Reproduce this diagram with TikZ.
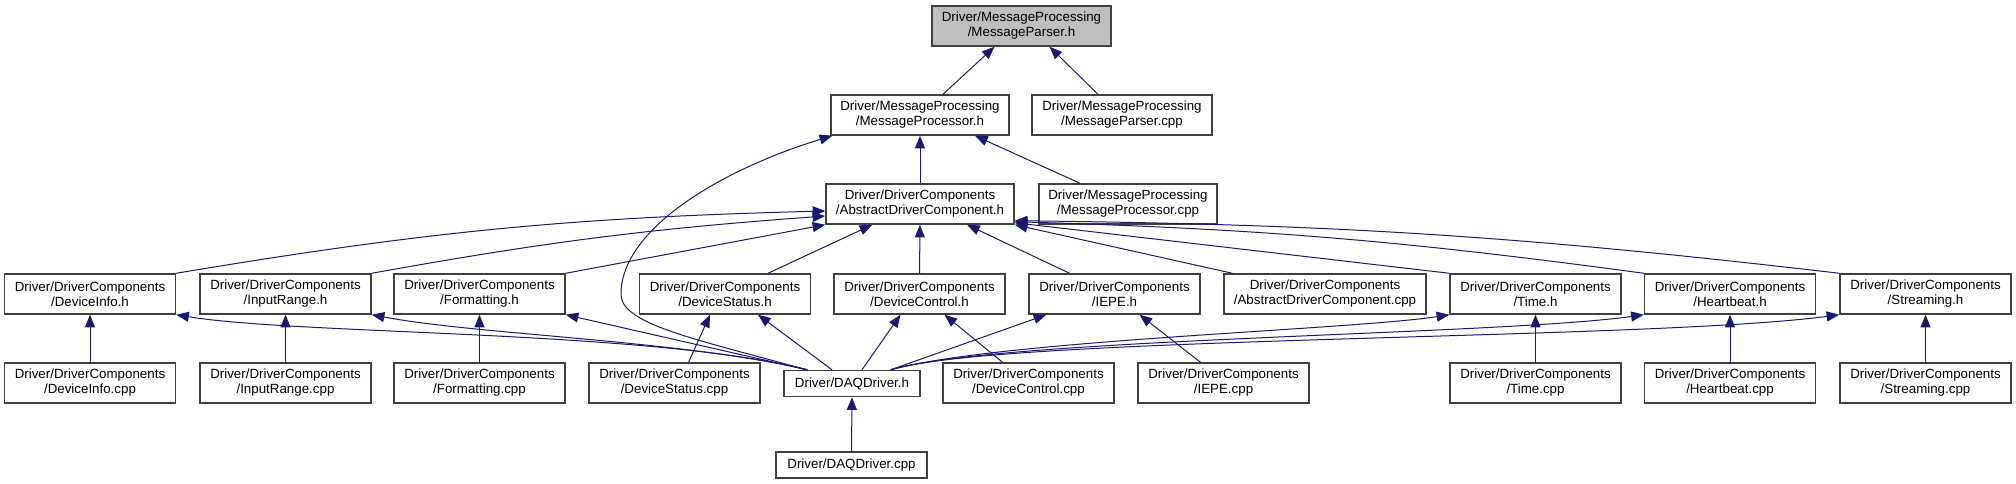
\documentclass[tikz,border=0pt]{standalone}
\usepackage{fontspec}
\setmainfont{Liberation Sans}
\usepackage{tikz}
\usetikzlibrary{arrows.meta, calc}
\definecolor{edgeblue}{RGB}{25, 25, 112}
\definecolor{headgray}{RGB}{191, 191, 191}

\begin{document}
\begin{tikzpicture}[x=0.75pt, y=-0.75pt,
    filenode/.style={rectangle, draw=black!75, line width=1.1pt, fill=white, minimum width=128.25pt, minimum height=30pt, inner sep=1pt, align=center, font=\fontsize{10pt}{11.25pt}\selectfont},
    rootnode/.style={filenode, fill=headgray, minimum width=134.25pt},
    onenode/.style={filenode, minimum height=19.5pt},
    incl/.style={<-, draw=edgeblue, line width=0.75pt, >={Triangle[length=9.5pt, width=7.5pt]}}
]
    \useasboundingbox (0,0) rectangle (2016,484);

    % Message processing
    \node[rootnode] (parserh) at (1021.5, 26) {Driver/MessageProcessing\\/MessageParser.h};
    \node[filenode, minimum width=133.5pt] (processorh) at (920, 115) {Driver/MessageProcessing\\/MessageProcessor.h};
    \node[filenode, minimum width=135pt] (parsercpp) at (1122, 115) {Driver/MessageProcessing\\/MessageParser.cpp};
    \node[filenode, minimum width=141pt] (abstracth) at (920, 204) {Driver/DriverComponents\\/AbstractDriverComponent.h};
    \node[filenode, minimum width=133.5pt] (processorcpp) at (1128, 204) {Driver/MessageProcessing\\/MessageProcessor.cpp};

    % Component headers
    \node[filenode] (devinfoh) at (90, 294) {Driver/DriverComponents\\/DeviceInfo.h};
    \node[filenode] (inrangeh) at (285.5, 294) {Driver/DriverComponents\\/InputRange.h};
    \node[filenode] (formath) at (479.5, 294) {Driver/DriverComponents\\/Formatting.h};
    \node[filenode] (devstath) at (725, 294) {Driver/DriverComponents\\/DeviceStatus.h};
    \node[filenode] (devctrlh) at (919.5, 294) {Driver/DriverComponents\\/DeviceControl.h};
    \node[filenode] (iepeh) at (1114.5, 294) {Driver/DriverComponents\\/IEPE.h};
    \node[filenode, minimum width=151.5pt] (abstractcpp) at (1325, 294) {Driver/DriverComponents\\/AbstractDriverComponent.cpp};
    \node[filenode] (timeh) at (1535.5, 294) {Driver/DriverComponents\\/Time.h};
    \node[filenode] (heartbeath) at (1730, 294) {Driver/DriverComponents\\/Heartbeat.h};
    \node[filenode] (streamingh) at (1925.5, 294) {Driver/DriverComponents\\/Streaming.h};

    % Sources and driver
    \node[filenode] (devinfocpp) at (90, 383) {Driver/DriverComponents\\/DeviceInfo.cpp};
    \node[filenode] (inrangecpp) at (285.5, 383) {Driver/DriverComponents\\/InputRange.cpp};
    \node[filenode] (formatcpp) at (479.5, 383) {Driver/DriverComponents\\/Formatting.cpp};
    \node[filenode] (devstatcpp) at (674.5, 383) {Driver/DriverComponents\\/DeviceStatus.cpp};
    \node[onenode, minimum width=102pt] (daqh) at (852, 383.5) {Driver/DAQDriver.h};
    \node[filenode] (devctrlcpp) at (1028.5, 383) {Driver/DriverComponents\\/DeviceControl.cpp};
    \node[filenode] (iepecpp) at (1223.5, 383) {Driver/DriverComponents\\/IEPE.cpp};
    \node[filenode] (timecpp) at (1535.5, 383) {Driver/DriverComponents\\/Time.cpp};
    \node[filenode] (heartbeatcpp) at (1730, 383) {Driver/DriverComponents\\/Heartbeat.cpp};
    \node[filenode] (streamingcpp) at (1925.5, 383) {Driver/DriverComponents\\/Streaming.cpp};
    \node[onenode, minimum width=113.25pt] (daqcpp) at (851.5, 465) {Driver/DAQDriver.cpp};

    % Upper edges
    \draw[incl] ($(parserh.south)+(-27,0)$) -- ($(processorh.north)+(23,0)$);
    \draw[incl] ($(parserh.south)+(28,0)$) -- ($(parsercpp.north)+(-24,0)$);
    \draw[incl] (processorh) -- (abstracth);
    \draw[incl] ($(processorh.south)+(55,0)$) -- ($(processorcpp.north)+(-48,0)$);
    \draw[incl] ($(processorh.south west)+(2,0)$) .. controls (720,170) and (620,230) .. (621,295)
        .. controls (622,325) and (700,340) .. ($(daqh.north west)+(23,0)$);

    % Abstract component users
    \draw[incl] ($(abstracth.west)+(0,7)$) to[bend right=4] (devinfoh.north east);
    \draw[incl] ($(abstracth.west)+(0,12)$) to[bend right=3] (inrangeh.north east);
    \draw[incl] (abstracth.south west) -- (formath.north east);
    \draw[incl] ($(abstracth.south west)+(47,0)$) -- ($(devstath.north)+(43,0)$);
    \draw[incl] (abstracth) -- (devctrlh);
    \draw[incl] ($(abstracth.south)+(47,0)$) -- ($(iepeh.north)+(-45,0)$);
    \draw[incl] (abstracth.south east) -- ($(abstractcpp.north west)+(9,0)$);
    \draw[incl] ($(abstracth.south east)+(0,-2)$) -- (timeh.north west);
    \draw[incl] ($(abstracth.south east)+(0,-3)$) to[bend left=3] (heartbeath.north west);
    \draw[incl] ($(abstracth.south east)+(0,-4)$) to[bend left=3] (streamingh.north west);

    % Sources
    \draw[incl] (devinfoh) -- (devinfocpp);
    \draw[incl] (inrangeh) -- (inrangecpp);
    \draw[incl] (formath) -- (formatcpp);
    \draw[incl] ($(devstath.south)+(-15,0)$) -- ($(devstatcpp.north)+(14,0)$);
    \draw[incl] ($(devctrlh.south)+(25,0)$) -- ($(devctrlcpp.north)+(-26,0)$);
    \draw[incl] ($(iepeh.south)+(25,0)$) -- ($(iepecpp.north)+(-23,0)$);
    \draw[incl] (timeh) -- (timecpp);
    \draw[incl] (heartbeath) -- (heartbeatcpp);
    \draw[incl] (streamingh) -- (streamingcpp);
    \draw[incl] (daqh) -- (daqcpp);

    % DAQ driver includes
    \draw[incl] (devinfoh.south east) .. controls (300,335) and (650,330) .. ($(daqh.north west)+(24,0)$);
    \draw[incl] (inrangeh.south east) .. controls (480,335) and (680,340) .. ($(daqh.north west)+(24,0)$);
    \draw[incl] (formath.south east) -- ($(daqh.north west)+(24,0)$);
    \draw[incl] ($(devstath.south)+(33,0)$) -- ($(daqh.north)+(-20,0)$);
    \draw[incl] ($(devctrlh.south)+(-19,0)$) -- ($(daqh.north)+(10,0)$);
    \draw[incl] ($(iepeh.south west)+(18,0)$) -- ($(daqh.north east)+(-30,0)$);
    \draw[incl] (timeh.south west) .. controls (1350,330) and (1000,340) .. ($(daqh.north east)+(-30,0)$);
    \draw[incl] (heartbeath.south west) .. controls (1500,335) and (1000,338) .. ($(daqh.north east)+(-30,0)$);
    \draw[incl] (streamingh.south west) .. controls (1650,340) and (1000,336) .. ($(daqh.north east)+(-30,0)$);
\end{tikzpicture}
\end{document}
